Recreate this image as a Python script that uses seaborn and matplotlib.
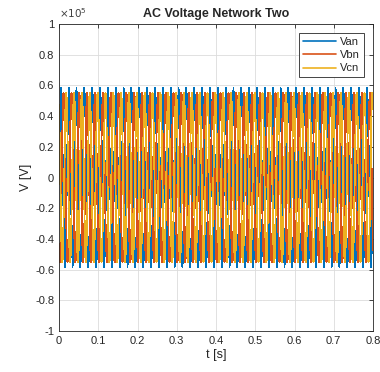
import numpy as np
import pandas as pd
import matplotlib
matplotlib.use('Agg')
import matplotlib.pyplot as plt
import seaborn as sns

# One 50 Hz cycle (0.02 s) of each phase voltage, 36 samples per cycle [V]
VAN_CYCLE = [0, 9600, 18800, 27500, 35400, 42100, 47600, 45000, 58500, 55000,
             54200, 51700, 47600, 42100, 35400, 27500, 18800, 9600, 0, -9600,
             -18800, -27500, -35400, -42100, -47600, -45000, -58500, -55000, -54200, -51700,
             -47600, -42100, -35400, -27500, -18800, -9600]
VBN_CYCLE = [-47600, -43000, -54200, -55000, -54200, -51700, -47600, -42100, -35400, -27500,
             -18800, -9600, 0, 9600, 18800, 27500, 35400, 42100, 47600, 43000,
             54200, 55000, 54200, 51700, 47600, 42100, 35400, 27500, 18800, 9600,
             0, -9600, -18800, -27500, -35400, -42100]
VCN_CYCLE = [47600, 42100, 35400, 27500, 18800, 9600, 0, -9600, -18800, -27500,
             -35400, -42100, -47600, -51700, -54200, -55000, -54200, -51700, -47600, -42100,
             -35400, -27500, -18800, -9600, 0, 9600, 18800, 27500, 35400, 42100,
             47600, 51700, 54200, 55000, 54200, 51700]
N_CYCLES = 40
T_END = 0.8
SERIES = ['Van', 'Vbn', 'Vcn']
COLORS = ['#0072BD', '#D95319', '#EDB120']
X_TICKS = [0, 0.1, 0.2, 0.3, 0.4, 0.5, 0.6, 0.7, 0.8]
Y_TICKS = [-1, -0.8, -0.6, -0.4, -0.2, 0, 0.2, 0.4, 0.6, 0.8, 1]

n = len(VAN_CYCLE) * N_CYCLES
t = np.linspace(0, T_END, n + 1)
frames = []
for name, cyc in zip(SERIES, [VAN_CYCLE, VBN_CYCLE, VCN_CYCLE]):
    v = np.append(np.tile(cyc, N_CYCLES), cyc[0])
    frames.append(pd.DataFrame({'t': t, 'V': v, 'phase': name}))
df = pd.concat(frames, ignore_index=True)

sns.set_style('white')
plt.rcParams['font.family'] = ['Liberation Sans', 'DejaVu Sans']
fig = plt.figure(figsize=(3.8, 3.72), dpi=100)
ax = fig.add_axes([59/380, 1-331/372, (373-59)/380, (331-24)/372])
sns.lineplot(data=df, x='t', y='V', hue='phase', estimator=None, sort=False,
             palette=COLORS, linewidth=0.6, antialiased=False, ax=ax)
ax.set_xlim(0, 0.8)
ax.set_ylim(-1e5, 1e5)
ax.set_xticks(X_TICKS)
ax.set_xticklabels(['%g' % v for v in X_TICKS])
ax.set_yticks([v*1e5 for v in Y_TICKS])
ax.set_yticklabels(['%g' % v for v in Y_TICKS])
ax.grid(True, color='#dcdcdc', linewidth=0.6)
ax.set_axisbelow(True)
ax.tick_params(direction='in', top=True, right=True, length=3, labelsize=8,
               colors='#262626', width=0.6)
for s in ax.spines.values():
    s.set_color('#262626')
    s.set_linewidth(0.6)
ax.set_title('AC Voltage Network Two', fontsize=9, fontweight='bold', pad=5)
ax.set_xlabel('t [s]', fontsize=9, color='#262626', labelpad=2)
ax.set_ylabel('V [V]', fontsize=9, color='#262626', labelpad=2)
ax.text(0.0, 1.012, r'$\times10^5$', transform=ax.transAxes, fontsize=7.5,
        color='#404040', va='bottom')
leg = ax.legend(loc='upper right', fontsize=8, fancybox=False, framealpha=1,
                edgecolor='#262626', handlelength=3.0, handletextpad=0.4,
                borderaxespad=0.8, borderpad=0.35, labelspacing=0.3)
leg.get_frame().set_linewidth(0.6)
for l in leg.get_lines():
    l.set_linewidth(1.2)
    l.set_antialiased(True)
fig.savefig('out.png', dpi=100)
